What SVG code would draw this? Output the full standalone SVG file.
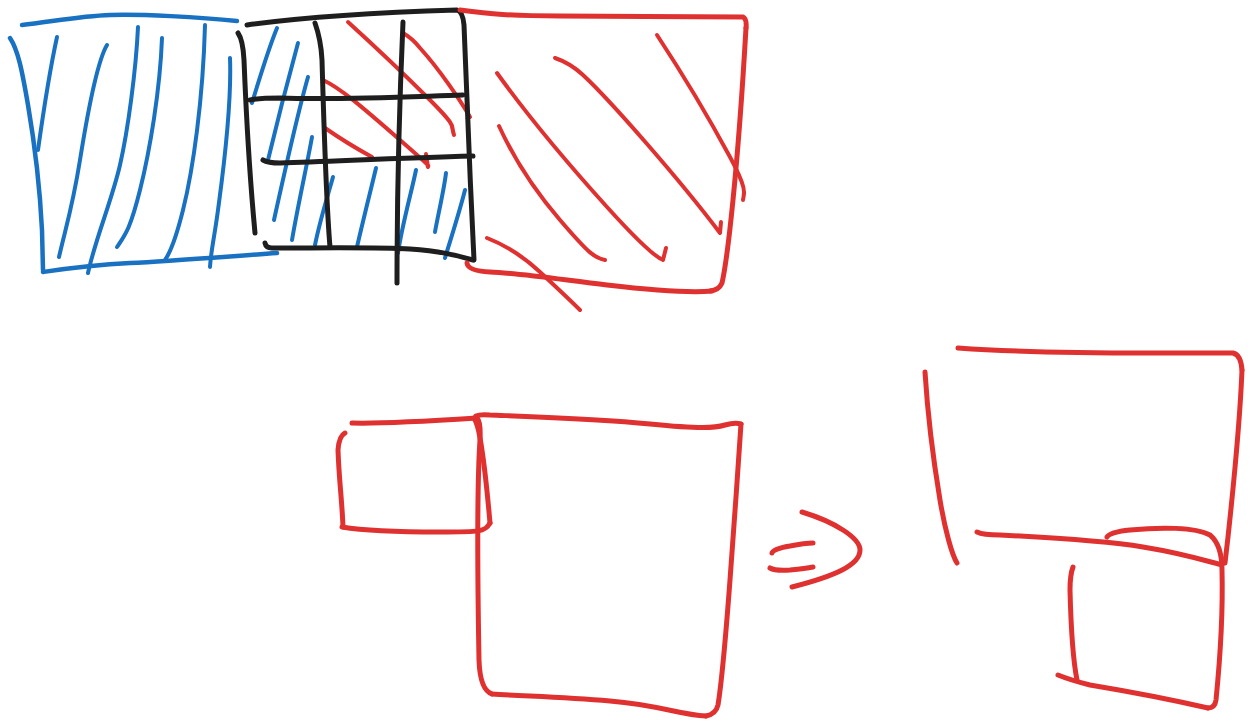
<svg xmlns="http://www.w3.org/2000/svg" width="1251" height="727" viewBox="0 0 1251 727">
<style>
path{fill:none;stroke-linecap:round;stroke-linejoin:round}
.b{stroke:#1971c2;stroke-width:4.5}
.k{stroke:#1e1e1e;stroke-width:5}
.r{stroke:#e03131;stroke-width:5}
.h{stroke-width:4}
</style>
<rect width="1251" height="727" fill="#ffffff"/>
<g id="blue-box">
<path class="b" d="M22,25 C50,22 80,16 110,15 S200,17 237,21"/>
<path class="b" d="M10,38 C18,50 22,70 28,105 S40,190 42,230 L43,270"/>
<path class="b" d="M43,272 C70,268 90,265 130,263 S220,257 277,253"/>
<path class="b h" d="M57,37 C52,60 45,100 38,150"/>
<path class="b h" d="M107,45 C98,60 88,110 80,160 S65,230 59,257"/>
<path class="b h" d="M138,27 C136,70 128,130 120,165 S95,240 88,273"/>
<path class="b h" d="M162,38 C160,90 150,150 140,190 S125,235 117,247"/>
<path class="b h" d="M205,25 C203,100 193,170 183,210 S168,255 165,260"/>
<path class="b h" d="M230,58 C232,110 222,180 218,210 S211,250 210,267"/>
</g>
<g id="grid-box">
<path class="b h" d="M277,28 C270,45 262,70 252,103"/>
<path class="b h" d="M298,43 C292,65 280,110 268,160"/>
<path class="b h" d="M308,77 C300,105 285,170 274,220"/>
<path class="b h" d="M312,137 C308,160 298,205 292,240"/>
<path class="b h" d="M333,177 C328,195 320,220 315,245"/>
<path class="b h" d="M376,168 C372,185 362,225 357,247"/>
<path class="b h" d="M416,170 C412,190 402,225 398,253"/>
<path class="b h" d="M446,173 C444,190 438,215 435,232"/>
<path class="b h" d="M465,190 C460,210 452,235 445,258"/>
<path class="r h" d="M348,22 C370,42 400,70 430,100 S450,125 454,135 L452,127"/>
<path class="r h" d="M403,33 Q412,38 420,48 C440,70 460,100 470,117"/>
<path class="r h" d="M323,80 C340,88 360,105 400,140 S425,163 428,167 L426,154"/>
<path class="r h" d="M325,128 C335,135 350,145 372,157"/>
<path class="k" d="M247,25 C290,19 360,13 457,10 Q463,12 464,25 C466,80 470,180 474,260"/>
<path class="k" d="M238,33 Q243,40 244,60 C246,110 250,180 255,233"/>
<path class="k" d="M265,243 Q266,248 272,248 C320,248 380,247 410,249 S455,255 473,260"/>
<path class="k" d="M315,23 Q321,40 322,60 C324,130 326,200 330,247"/>
<path class="k" d="M403,22 C400,90 397,200 397,283"/>
<path class="k" d="M250,100 Q260,98 280,98 C340,100 400,97 463,95"/>
<path class="k" d="M263,160 Q268,163 280,163 C340,161 400,158 473,156"/>
</g>
<g id="red-box">
<path class="r" d="M460,10 C490,14 510,16 560,16 S700,17 743,17 Q747,19 746,28"/>
<path class="r" d="M746,28 C743,80 738,150 733,200 S725,270 722,283 Q719,290 710,291"/>
<path class="r" d="M712,291 C690,293 650,290 607,285 S520,273 490,272 Q468,271 467,263"/>
<path class="r h" d="M487,238 C505,245 525,258 540,272 S570,300 580,310"/>
<path class="r h" d="M657,35 C680,70 710,120 730,157 S743,195 743,200"/>
<path class="r h" d="M555,58 Q570,63 583,75 C610,100 680,180 720,233 L721,222"/>
<path class="r h" d="M497,73 C520,105 560,155 607,207 S660,258 663,260 L666,248"/>
<path class="r h" d="M499,126 C510,150 530,185 560,220 S595,258 605,260"/>
</g>
<g id="before-shape">
<path class="r" d="M352,423 C380,424 430,421 477,418"/>
<path class="r" d="M345,433 Q339,436 338,450 C339,480 342,500 343,527"/>
<path class="r" d="M342,527 C360,530 400,532 440,532 S485,532 490,523"/>
<path class="r" d="M490,523 C488,500 484,460 480,438 Q478,425 474,418"/>
<path class="r" d="M477,418 Q481,422 480,440 C476,500 478,600 479,660 Q480,690 492,694"/>
<path class="r" d="M476,416 Q480,414 490,415 C540,417 600,419 650,424 S715,428 725,425 Q735,422 741,424"/>
<path class="r" d="M741,424 C738,470 733,540 730,580 S722,680 718,705 Q716,714 706,716"/>
<path class="r" d="M492,694 C520,696 560,697 610,701 S680,715 706,716"/>
</g>
<g id="arrow">
<path class="r" d="M802,512 C835,522 860,538 860,550 C860,565 835,576 792,587"/>
<path class="r" d="M772,553 Q773,549 790,546 C800,544 808,543 813,543"/>
<path class="r" d="M770,568 Q775,571 790,570 C800,569 808,568 813,567"/>
</g>
<g id="after-shape">
<path class="r" d="M958,348 C1000,351 1080,353 1150,353 S1225,353 1233,353 Q1241,355 1242,370"/>
<path class="r" d="M1242,370 C1240,420 1232,500 1228,537 L1225,563"/>
<path class="r" d="M925,372 C928,420 935,470 940,500 S952,555 957,563"/>
<path class="r" d="M977,532 Q983,535 1000,535 C1040,537 1100,540 1143,547 S1210,562 1222,565"/>
<path class="r" d="M1107,537 Q1110,532 1130,530 C1160,527 1195,527 1210,535 Q1222,545 1222,570 C1223,610 1220,660 1216,700 Q1215,708 1208,708"/>
<path class="r" d="M1073,567 Q1070,575 1070,590 C1071,630 1073,660 1077,680"/>
<path class="r" d="M1058,675 Q1070,680 1090,685 C1120,690 1160,697 1208,708"/>
</g>
</svg>
